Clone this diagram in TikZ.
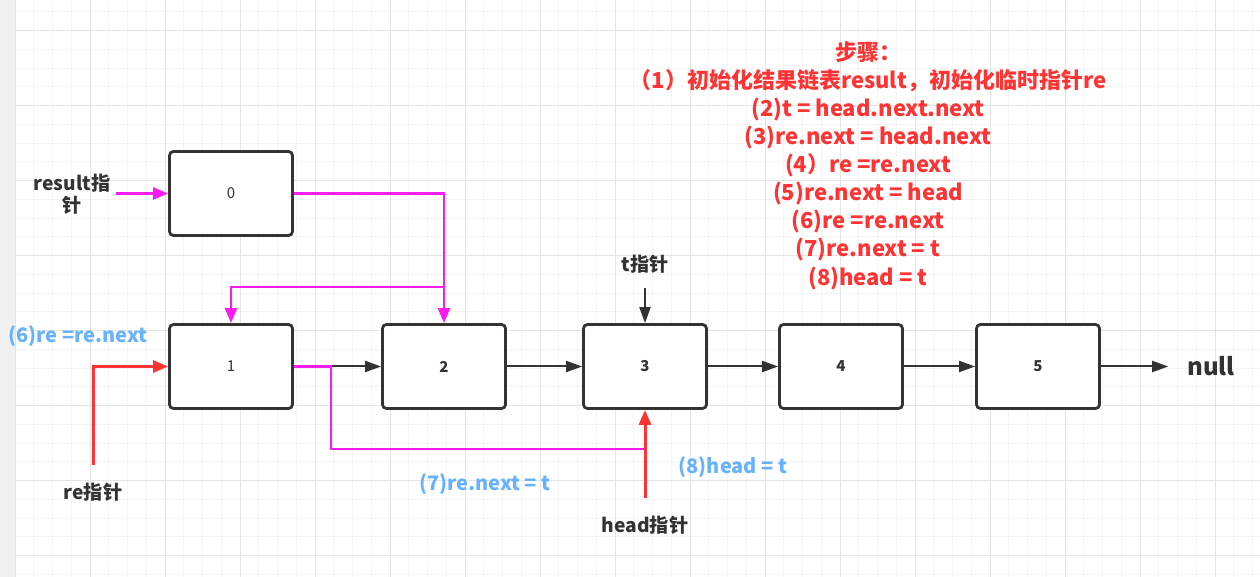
\documentclass[tikz,border=0pt]{standalone}
\usepackage{fontspec}
\setmainfont{Noto Sans CJK SC}
\usetikzlibrary{arrows.meta}

\definecolor{boxline}{HTML}{333333}
\definecolor{redline}{HTML}{FF3333}
\definecolor{pinkline}{HTML}{F81CF0}
\definecolor{bluetext}{HTML}{66B2FF}
\definecolor{gridminor}{HTML}{F4F4F4}
\definecolor{gridmajor}{HTML}{E4E4E4}

\begin{document}
\begin{tikzpicture}[x=0.5pt,y=-0.5pt]
	\def \rowoneht{193.5}
	\def \rowtwoht{366.5}
	\tikzstyle{box}=[draw=boxline,line width=1.4pt,rounded corners=2pt,fill=white,minimum width=61.5pt,minimum height=42pt,inner sep=0pt,text=boxline,font=\fontsize{7.5}{9}\selectfont]
	\tikzstyle{annot}=[text=boxline,font=\bfseries\fontsize{9.6}{11}\selectfont,align=center,inner sep=1pt]
	\tikzstyle{blue-note}=[text=bluetext,font=\bfseries\fontsize{10}{11}\selectfont,inner sep=1pt]
	\tikzstyle{next}=[draw=boxline,line width=1pt,-{Triangle[length=8pt,width=5.5pt]}]
	\tikzstyle{pink}=[draw=pinkline,line width=1.3pt,-{Triangle[length=7.5pt,width=6pt]}]
	\tikzstyle{red}=[draw=redline,line width=1.5pt,-{Triangle[length=7.5pt,width=6pt]}]
	\useasboundingbox (0,0) rectangle (1260,577);

	% grid
	\fill[white] (0,0) rectangle (1260,577);
	\fill[gray!12] (0,0) rectangle (15,577);
	\foreach \gx in {0,...,66} \draw[gridminor,line width=0.5pt] ({15+18.75*\gx},0) -- ({15+18.75*\gx},577);
	\foreach \gy in {-1,...,30} \draw[gridminor,line width=0.5pt] (15,{30.7+18.75*\gy}) -- (1260,{30.7+18.75*\gy});
	\foreach \gx in {0,...,16} \draw[gridmajor,line width=0.5pt] ({15+75*\gx},0) -- ({15+75*\gx},577);
	\foreach \gy in {0,...,7} \draw[gridmajor,line width=0.5pt] (15,{30.7+75*\gy}) -- (1260,{30.7+75*\gy});

	% steps
	\node[text=redline,font=\bfseries\fontsize{11}{14.05}\selectfont,align=center] (steps) at (868,165.5) {步骤：\\（1）初始化结果链表result，初始化临时指针re\\(2)t = head.next.next\\(3)re.next = head.next\\(4）re =re.next\\(5)re.next = head\\(6)re =re.next\\(7)re.next = t\\(8)head = t};

	% list nodes
	\node[box] (b0) at (231,\rowoneht) {0};
	\node[box] (b1) at (231,\rowtwoht) {1};
	\node[box,font=\bfseries\fontsize{7.5}{9}\selectfont] (b2) at (444,\rowtwoht) {2};
	\node[box,font=\bfseries\fontsize{7.5}{9}\selectfont] (b3) at (645,\rowtwoht) {3};
	\node[box,font=\bfseries\fontsize{7.5}{9}\selectfont] (b4) at (841,\rowtwoht) {4};
	\node[box,font=\bfseries\fontsize{7.5}{9}\selectfont] (b5) at (1038,\rowtwoht) {5};
	\node[text=boxline,font=\bfseries\fontsize{12}{13}\selectfont] (nl) at (1211,\rowtwoht) {null};

	% labels
	\node[annot] (res) at (72,194) {result指\\针};
	\node[annot] (t) at (645,264) {t指针};
	\node[annot] (re) at (93,492) {re指针};
	\node[annot] (head) at (645,525) {head指针};
	\node[blue-note] (n6) at (78,336) {(6)re =re.next};
	\node[blue-note] (n7) at (485,484) {(7)re.next = t};
	\node[blue-note] (n8) at (733,467) {(8)head = t};

	\coordinate (resout) at (116,\rowoneht);
	\coordinate (tout) at (645,288);
	\coordinate (turn) at (444,287);
	\coordinate (p1) at (331,\rowtwoht);
	\coordinate (p2) at (645,449);
	\coordinate (hout) at (645,498);
	\coordinate (reout) at (93,465);

	\path
		(b1)	edge[next]	(b2)
		(b2)	edge[next]	(b3)
		(b3)	edge[next]	(b4)
		(b4)	edge[next]	(b5)
		(b5)	edge[next,shorten >=6pt]	(nl)
		(tout)	edge[next]	(b3);

	\draw[pink] (resout) -- (b0.west);
	\draw[pink] (b0.east) -| (b2.north);
	\draw[pink] (turn) -| (b1.north);
	\draw[pink,-] (b1.east) -- (p1) |- (p2);
	\draw[red] (hout) -- (b3.south);
	\draw[red] (reout) |- (b1.west);
\end{tikzpicture}
\end{document}
